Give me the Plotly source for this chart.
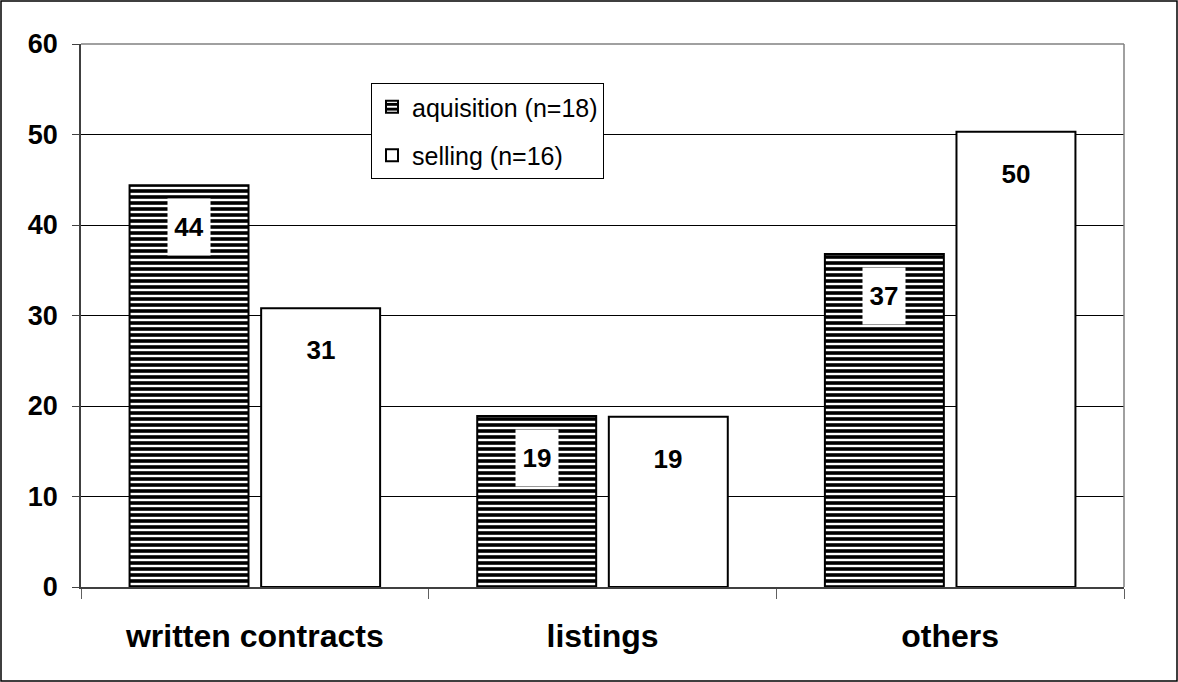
import plotly.graph_objects as go

categories = ["written contracts", "listings", "others"]
aquisition = [44.4, 18.9, 36.8]
selling = [30.8, 18.8, 50.3]
aq_labels = ["44", "19", "37"]
se_labels = ["31", "19", "50"]
series_names = ["aquisition (n=18)", "selling (n=16)"]
y_ticks = [0, 10, 20, 30, 40, 50, 60]

W, H = 1178, 682
L, R, T, B = 81, 54, 44, 95
pw, ph = W - L - R, H - T - B
FONT = "Liberation Sans, Arial"

fig = go.Figure()
fig.add_trace(go.Bar(
    x=categories, y=aquisition, name=series_names[0], legendgroup="a",
    marker=dict(color="white", line=dict(color="black", width=2),
                pattern=dict(shape="-", fgcolor="black", bgcolor="white", size=6,
                             solidity=0.6, fgopacity=1)),
))
fig.add_trace(go.Bar(
    x=categories, y=selling, name=series_names[1], legendgroup="b",
    marker=dict(color="white", line=dict(color="black", width=2)),
))

off = 65.8
for i, c in enumerate(categories):
    for vals, labs, sh in ((aquisition, aq_labels, -off), (selling, se_labels, off)):
        fig.add_annotation(x=c, y=vals[i], xref="x", yref="y", text="<b>%s</b>" % labs[i],
                           showarrow=False, xshift=sh, yshift=-42, yanchor="middle",
                           width=40, height=54, bgcolor="white",
                           font=dict(family=FONT, size=26, color="black"))

# plot-area border (top & right, grey)
fig.add_shape(type="line", xref="paper", yref="paper", x0=0, x1=1, y0=1, y1=1,
              line=dict(color="#808080", width=1.5), layer="above")
fig.add_shape(type="line", xref="paper", yref="paper", x0=1, x1=1, y0=0, y1=1,
              line=dict(color="#808080", width=1.5), layer="above")
# outer frame
fig.add_shape(type="rect", xref="paper", yref="paper",
              x0=-(L - 1) / pw, x1=1 + (R - 1) / pw, y0=-(B - 1) / ph, y1=1 + (T - 1) / ph,
              line=dict(color="black", width=1.5), layer="above")

fig.update_layout(
    width=W, height=H,
    margin=dict(l=L, r=R, t=T, b=B),
    paper_bgcolor="white", plot_bgcolor="white",
    barmode="group", bargap=0.243, bargroupgap=0.096,
    font=dict(family=FONT, color="black"),
    showlegend=True,
    legend=dict(x=(371 - L) / pw, y=(587 - 83) / ph, xanchor="left", yanchor="top",
                bgcolor="white", bordercolor="black", borderwidth=1,
                font=dict(size=25, family=FONT),
                tracegroupgap=13, traceorder="grouped", itemwidth=30),
    xaxis=dict(showline=True, linecolor="#404040", linewidth=1.5, ticks="outside",
               tickson="boundaries", ticklen=10, tickcolor="#606060",
               tickfont=dict(size=32, family=FONT),
               ticklabelstandoff=20, showgrid=False),
    yaxis=dict(range=[0, 60], tickvals=y_ticks, showline=True, linecolor="#404040", linewidth=1.5,
               ticks="outside", ticklen=7, tickcolor="#404040",
               tickfont=dict(size=27, family=FONT),
               ticklabelstandoff=9, showgrid=True, gridcolor="black", gridwidth=1,
               zeroline=False),
)
fig.update_xaxes(tickvals=categories, ticktext=["<b>%s</b>" % c for c in categories])
fig.update_yaxes(ticktext=["<b>%d</b>" % v for v in y_ticks])

fig.write_html("out.html", config={"displayModeBar": False},
               post_script="document.body.style.margin='0';")
